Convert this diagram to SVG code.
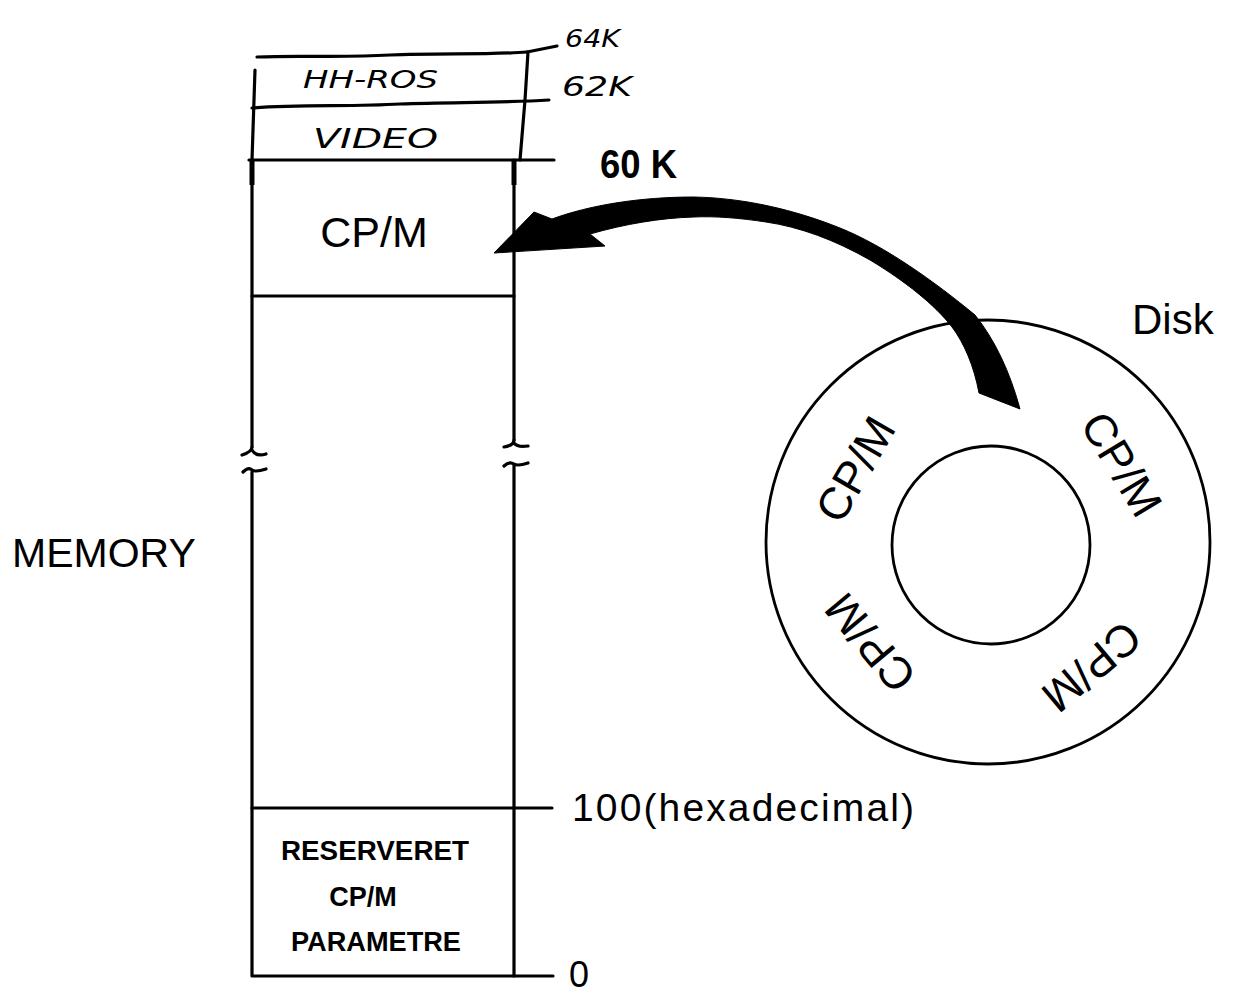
<svg xmlns="http://www.w3.org/2000/svg" width="1234" height="995" viewBox="0 0 1234 995">
  <style>
    .ln { fill: none; stroke: #000; stroke-width: 3.2; stroke-linecap: round; stroke-linejoin: round; }
    .thin { fill: none; stroke: #000; stroke-width: 2.8; }
    .lbl { font-family: "Liberation Sans", Arial, sans-serif; fill: #000; }
    .hand { font-family: "DejaVu Sans", "Liberation Sans", sans-serif; font-style: italic; fill: #000; }
    .res { font-family: "Liberation Sans", Arial, sans-serif; font-weight: bold; font-size: 27px; fill: #000; text-anchor: middle; }
    .disk { font-family: "Liberation Sans", Arial, sans-serif; font-size: 45px; fill: #000; text-anchor: middle; }
  </style>
  <rect width="1234" height="995" fill="#fff"/>

  <g id="memory">
    <path class="ln" d="M257,57 C300,55 340,58 390,55 C440,53 490,55 527,52"/>
    <path class="ln" d="M255,70 L252,160"/>
    <path class="ln" d="M528,52 L525,100 L520,160"/>
    <path class="ln" d="M252,108 C300,104 350,107 400,104 C450,102 500,103 549,100"/>
    <path class="ln" d="M527,52 L557,46"/>
    <path class="ln" d="M249,160 L554,160"/>
    <path class="ln" d="M252,160 L252,447"/>
    <path class="ln" d="M252,472 L252,976 L553,976"/>
    <path class="ln" d="M514,160 L514,440"/>
    <path class="ln" d="M514,465 L514,976"/>
    <rect x="249.5" y="160" width="5" height="25" fill="#000"/>
    <rect x="511.5" y="160" width="5" height="25" fill="#000"/>
    <path class="ln" d="M252,296 L514,296"/>
    <path class="ln" d="M252,808 L552,808"/>
    <path class="ln" d="M252,447 C252,451 248,453 242,455 M252,450 C255,455 260,456 266,454"/>
    <path class="ln" d="M243,472 C247,468 250,468 252,470 C255,472 260,471 266,469"/>
    <path class="ln" d="M514,440 C514,444 510,446 504,447 M514,443 C517,447 522,447 528,446"/>
    <path class="ln" d="M504,466 C508,462 511,462 514,464 C517,466 522,465 528,463"/>
  </g>

  <g id="labels-memory">
    <text class="hand" x="303" y="88" font-size="24" textLength="135" lengthAdjust="spacingAndGlyphs">HH-ROS</text>
    <text class="hand" x="313" y="148" font-size="26" textLength="125" lengthAdjust="spacingAndGlyphs">VIDEO</text>
    <text class="hand" x="565" y="47" font-size="24" textLength="55" lengthAdjust="spacingAndGlyphs">64K</text>
    <text class="hand" x="562" y="96" font-size="26" textLength="70" lengthAdjust="spacingAndGlyphs">62K</text>
    <text class="lbl" x="600" y="178" font-size="40" font-weight="bold" textLength="77" lengthAdjust="spacingAndGlyphs">60 K</text>
    <text class="lbl" x="374" y="247" font-size="43" text-anchor="middle">CP/M</text>
    <text class="lbl" x="12" y="567" font-size="41">MEMORY</text>
    <text class="lbl" x="572" y="821" font-size="39" textLength="342" lengthAdjust="spacing">100(hexadecimal)</text>
    <text class="lbl" x="569" y="987" font-size="36">0</text>
    <text class="res" x="375" y="860" textLength="188" lengthAdjust="spacingAndGlyphs">RESERVERET</text>
    <text class="res" x="363" y="906">CP/M</text>
    <text class="res" x="376" y="951" textLength="170" lengthAdjust="spacingAndGlyphs">PARAMETRE</text>
  </g>

  <g id="disk">
    <circle class="thin" cx="988" cy="542" r="222"/>
    <circle class="thin" cx="991" cy="545" r="99"/>
    <text class="disk" transform="translate(855,469) rotate(-60)" y="16">CP/M</text>
    <text class="disk" transform="translate(1122,464) rotate(59)" y="16">CP/M</text>
    <text class="disk" transform="translate(1092,667) rotate(140)" y="16">CP/M</text>
    <text class="disk" transform="translate(870,643) rotate(230)" y="16">CP/M</text>
    <text class="lbl" x="1132" y="334" font-size="42">Disk</text>
  </g>

  <g id="connectors">
    <path fill="#000" stroke="#000" stroke-width="1" stroke-linejoin="round" d="M494,253 L534,212 L552,219 C590,205 640,197 694,197 C745,198 795,210 840,228 C885,246 935,282 975,315 C995,340 1010,372 1020,409 L979,393 C974,366 964,343 952,327 C935,305 905,281 870,260 C835,240 800,227 766,222 C740,218 715,216 694,217 C660,218 625,224 590,234 L605,246 L494,253 Z"/>
  </g>
</svg>
